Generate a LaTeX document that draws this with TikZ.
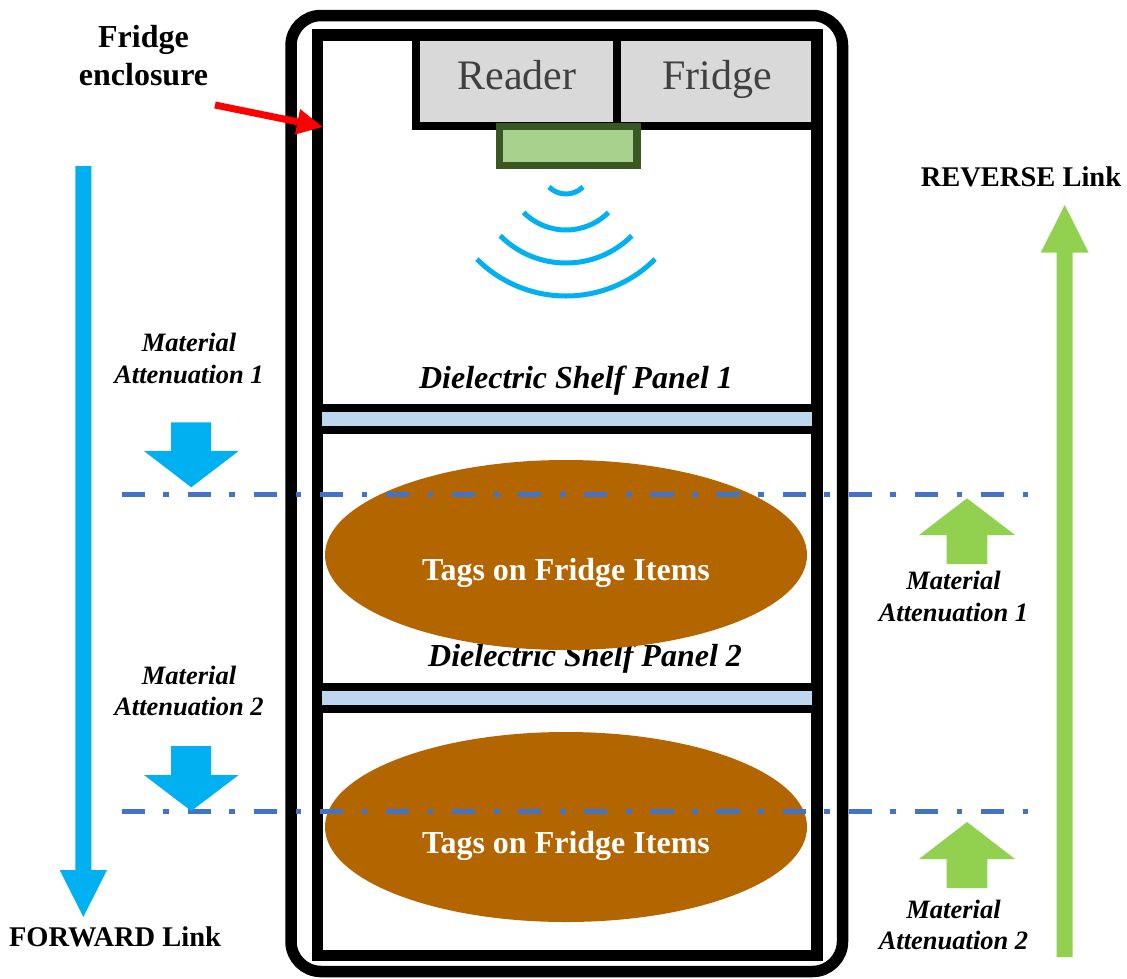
\documentclass[tikz,border=0pt]{standalone}
\usepackage{fontspec}
\setmainfont{Liberation Serif}
\usetikzlibrary{arrows.meta,shapes.geometric}
\definecolor{fwdblue}{HTML}{00B0F0}
\definecolor{revgreen}{HTML}{92D050}
\definecolor{dashblue}{HTML}{4472C4}
\definecolor{tagbrown}{HTML}{B36500}
\definecolor{shelfblue}{HTML}{BDD7EE}
\definecolor{boxgray}{HTML}{D9D9D9}
\definecolor{graytext}{HTML}{404040}
\definecolor{antfill}{HTML}{A9D18E}
\definecolor{antdraw}{HTML}{385723}
\begin{document}
\begin{tikzpicture}[x=1pt,y=-1pt,
  txt/.style={inner sep=0pt, outer sep=0pt},
  matlbl/.style={txt, align=center, font=\fontsize{26.5}{31.5}\selectfont\bfseries\itshape},
  panellbl/.style={txt, anchor=base, font=\fontsize{32}{38}\selectfont\bfseries\itshape},
  linklbl/.style={txt, anchor=base, font=\fontsize{28.5}{34}\selectfont\bfseries},
  taglbl/.style={txt, anchor=base, text=white, font=\fontsize{32}{38}\selectfont\bfseries},
  boxlbl/.style={txt, anchor=base, text=graytext, font=\fontsize{42}{50}\selectfont},
  tagell/.style={ellipse, fill=tagbrown, draw=none, inner sep=0pt, minimum width=482pt, minimum height=190pt},
  wave/.style={draw=fwdblue, line width=5pt},
  linkline/.style={draw=dashblue, line width=5pt, dash pattern=on 23.2pt off 18.6pt on 5.7pt off 18.6pt},
  fwdfill/.style={fill=fwdblue, draw=none},
  revfill/.style={fill=revgreen, draw=none},
  wall/.style={draw=black, line width=11.5pt}
]
% canvas
\path[fill=white, use as bounding box] (0,0) rectangle (1127,978);

% fridge enclosure and cabinet
\draw[wall, rounded corners=30pt] (291,15.5) rectangle (842.5,971.5);
\fill[boxgray] (416,35) rectangle (817,126);
\draw[wall] (317.5,35) rectangle (817,955.5);
\draw[line width=8.3pt] (416,35) -- (416,126) -- (817,126);
\draw[line width=8.3pt] (617,35) -- (617,126);
\node[boxlbl] (reader) at (517,89) {Reader};
\node[boxlbl] (fridgebox) at (717,89) {Fridge};

% reader antenna
\draw[fill=antfill, draw=antdraw, line width=7.3pt] (499.3,126.3) rectangle (637,165.7);
\begin{scope}[shift={(566,170)}, y=1pt]
  \draw[wave] (225:24) arc[start angle=225, end angle=315, radius=24];
  \draw[wave] (225:60) arc[start angle=225, end angle=315, radius=60];
  \draw[wave] (225:93) arc[start angle=225, end angle=315, radius=93];
  \draw[wave] (225:126) arc[start angle=225, end angle=315, radius=126];
\end{scope}

% shelves
\fill[black] (317.5,404) rectangle (817,434);
\fill[shelfblue] (322,412.3) rectangle (812,426);
\fill[black] (317.5,683) rectangle (817,713.3);
\fill[shelfblue] (322,691) rectangle (812,705);
\node[panellbl] (panel1) at (576,388.3) {Dielectric Shelf Panel 1};
\node[panellbl] (panel2) at (585,666) {Dielectric Shelf Panel 2};

% tagged items
\node[tagell] (items1) at (566,555) {};
\node[tagell] (items2) at (566,827) {};
\node[taglbl] (tags1) at (566,580) {Tags on Fridge Items};
\node[taglbl] (tags2) at (566,853) {Tags on Fridge Items};

% dash-dot reference lines
\coordinate (l1s) at (121.5,494);
\coordinate (l1e) at (1028,494);
\coordinate (l2s) at (121.5,811.7);
\coordinate (l2e) at (1028,811.7);
\draw[linkline] (l1s) -- (l1e);
\draw[linkline] (l2s) -- (l2e);

% enclosure label with red arrow
\node[txt, align=center, font=\fontsize{32}{38}\selectfont\bfseries] (encl) at (143.5,56) {Fridge\\enclosure};
\coordinate (redtail) at (215,105);
\coordinate (redtip) at (323,127);
\draw[red, line width=7pt, -{Triangle[length=26pt,width=24pt]}] (redtail) -- (redtip);

% forward link arrow
\fill[fwdfill] (75.3,166) -- (91.3,166) -- (91.3,870) -- (107,870) -- (83.3,917) -- (59.7,870) -- (75.3,870) -- cycle;
\node[linklbl] (fwd) at (115,946) {FORWARD Link};

% reverse link arrow
\fill[revfill] (1056.7,957) -- (1072.7,957) -- (1072.7,252.7) -- (1088.7,252.7) -- (1064.7,205) -- (1040.7,252.7) -- (1056.7,252.7) -- cycle;
\node[linklbl] (rev) at (1021,186) {REVERSE Link};

% forward attenuation arrows
\fill[fwdfill] (171,422.3) -- (211,422.3) -- (211,451) -- (238.7,451) -- (191.2,487.3) -- (144,451) -- (171,451) -- cycle;
\fill[fwdfill] (171,746) -- (211,746) -- (211,775) -- (238.7,775) -- (191.2,811) -- (144,775) -- (171,775) -- cycle;
\node[matlbl] (fma1) at (189,358.3) {Material\\Attenuation 1};
\node[matlbl] (fma2) at (189,690.9) {Material\\Attenuation 2};

% reverse attenuation arrows
\fill[revfill] (946.7,564) -- (987.3,564) -- (987.3,535) -- (1015,535) -- (967,498.3) -- (919,535) -- (946.7,535) -- cycle;
\fill[revfill] (946.7,888) -- (987.3,888) -- (987.3,859) -- (1015,859) -- (967,822) -- (919,859) -- (946.7,859) -- cycle;
\node[matlbl] (rma1) at (953.5,596.7) {Material\\Attenuation 1};
\node[matlbl] (rma2) at (953.5,925) {Material\\Attenuation 2};
\end{tikzpicture}
\end{document}
